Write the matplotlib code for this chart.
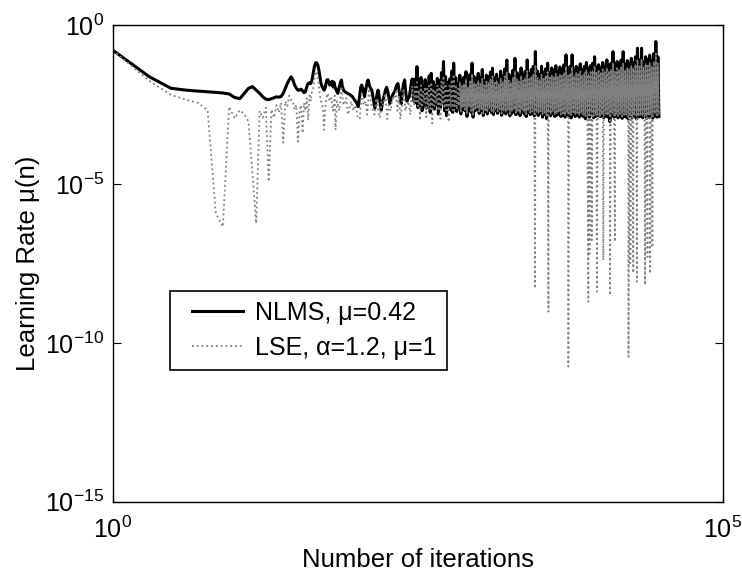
import numpy as np
import matplotlib
matplotlib.use("Agg")
import matplotlib.pyplot as plt
from matplotlib.ticker import NullLocator
from matplotlib.legend_handler import HandlerLine2D

plt.rcParams['font.family'] = ['Liberation Sans', 'DejaVu Sans']
plt.rcParams['mathtext.fontset'] = 'custom'
plt.rcParams['mathtext.rm'] = 'Liberation Sans'
plt.rcParams['mathtext.it'] = 'Liberation Sans:italic'
plt.rcParams['mathtext.bf'] = 'Liberation Sans:bold'

# ---------------- data (log10 of learning rate) ----------
# iterations 1..60
iters_early = list(range(1, 61))
nlms_early_log = [-0.79, -1.63, -1.99, -2.05, -2.08, -2.10, -2.12, -2.14, -2.17, -2.28,
                  -2.32, -2.15, -1.99, -1.94, -2.05, -2.15, -2.26, -2.33, -2.35, -2.32,
                  -2.29, -2.26, -2.27, -2.25, -2.15, -1.99, -1.84, -1.72, -1.63, -1.73,
                  -1.89, -1.99, -2.05, -2.05, -2.02, -2.07, -2.13, -2.10, -1.94, -1.84,
                  -1.82, -1.84, -1.73, -1.52, -1.31, -1.19, -1.19, -1.26, -1.42, -1.63,
                  -1.84, -1.94, -1.99, -2.05, -1.99, -1.84, -1.73, -1.72, -1.78, -1.89]
lse_early_log = [-0.79, -1.76, -2.20, -2.35, -2.45, -2.68, -5.92, -6.35, -2.57, -2.94,
                 -2.68, -2.80, -3.05, -4.70, -6.24, -2.70, -2.92, -2.60, -4.93, -2.66,
                 -2.92, -2.52, -2.75, -2.45, -3.70, -2.40, -2.55, -2.22, -2.35, -2.40,
                 -2.66, -2.52, -3.67, -2.70, -2.52, -3.40, -2.45, -2.70, -2.30, -3.00,
                 -2.22, -2.40, -2.10, -2.00, -1.70, -1.52, -1.46, -1.70, -1.92, -2.22,
                 -2.40, -2.52, -2.60, -3.30, -2.70, -2.40, -2.22, -2.15, -2.30, -2.40]

# iterations 60..300 (wiggly part)
nlms_mid_x = [62, 63, 64, 65, 67, 69, 70, 72, 74, 75, 76, 78, 80, 84, 88, 92, 96, 100,
              103, 106, 108, 110, 113, 116, 119, 122, 124, 127, 130, 133, 137, 141, 145,
              148, 150, 154, 159, 163, 168, 172, 176, 180, 184, 187, 191, 196, 200, 205,
              210, 214, 218, 222, 227, 232, 237, 242, 247, 252, 258, 264, 270, 276, 281,
              285, 290, 295]
nlms_mid_log = [-1.80, -1.77, -1.95, -1.80, -2.00, -2.10, -2.15, -1.95, -1.78, -1.73,
                -1.90, -2.05, -2.10, -2.15, -2.19, -2.25, -2.36, -2.45, -2.57, -2.20,
                -1.95, -1.89, -2.05, -2.26, -2.00, -1.80, -1.73, -1.90, -2.00, -2.05,
                -2.35, -2.62, -2.30, -2.10, -2.05, -2.35, -2.68, -2.40, -2.22, -2.05,
                -1.96, -2.10, -2.30, -2.47, -2.35, -2.22, -2.15, -2.10, -1.95, -1.88,
                -1.84, -2.05, -2.30, -2.47, -2.10, -1.85, -1.73, -2.10, -2.40, -2.30,
                -2.26, -2.00, -1.80, -1.70, -2.10, -2.40]
lse_mid_x = [62, 64, 66, 67, 69, 72, 75, 78, 82, 85, 90, 94, 98, 102, 106, 110, 114,
             118, 122, 126, 130, 136, 140, 145, 150, 155, 160, 166, 172, 178, 183, 190,
             196, 202, 210, 216, 222, 228, 235, 242, 250, 258, 265, 275, 285, 295]
lse_mid_log = [-2.30, -2.70, -2.22, -3.30, -2.40, -2.70, -2.00, -2.52, -2.30, -2.82,
               -2.40, -2.70, -2.52, -2.92, -2.96, -2.10, -2.52, -2.40, -2.82, -2.00,
               -2.40, -2.70, -2.82, -2.30, -2.70, -2.92, -2.40, -2.52, -2.15, -2.96,
               -2.52, -2.70, -2.30, -2.35, -2.10, -2.70, -2.22, -2.96, -2.52, -2.00,
               -2.70, -2.52, -2.40, -2.82, -1.92, -2.52]

# iterations 300..30000 (dense band): successive peaks (hi) and troughs (lo)
band_start, band_end = 300, 30000
nlms_hi_log = [-1.70, -1.31, -1.80, -1.65, -1.95, -1.72, -1.85, -1.60, -1.52, -1.78,
               -1.90, -1.68, -1.75, -1.50, -1.15, -1.62, -1.80, -1.70, -1.45, -1.20,
               -1.66, -1.85, -1.58, -1.72, -1.64, -1.47, -1.80, -1.55, -1.20, -1.62,
               -1.70, -1.52, -1.66, -1.40, -1.75, -1.58, -1.62, -1.48, -1.36, -1.66,
               -1.55, -1.70, -1.45, -1.60, -1.38, -1.10, -1.55, -1.62, -1.42, -1.05,
               -1.50, -1.60, -1.35, -1.58, -1.46, -1.10, -1.52, -1.40, -1.30, -0.84,
               -1.45, -1.55, -1.30, -1.48, -1.38, -1.20, -1.50, -1.35, -1.42, -1.28,
               -1.46, -1.32, -1.40, -1.25, -0.94, -1.38, -1.30, -0.94, -1.42, -1.30,
               -1.36, -1.22, -1.40, -1.30, -1.18, -1.35, -1.28, -1.20, -1.00, -1.32,
               -1.25, -1.35, -1.18, -1.30, -1.10, -1.26, -1.20, -0.84, -1.28, -1.15,
               -1.22, -1.10, -0.84, -1.25, -1.12, -1.20, -1.05, -1.18, -1.00, -0.73,
               -1.10, -0.73, -1.15, -1.00, -1.08, -0.95, -1.12, -0.90, -0.52, -1.00]
nlms_lo_log = [-2.45, -2.60, -2.35, -2.70, -2.50, -2.62, -2.40, -2.75, -2.55, -2.65,
               -2.50, -2.80, -2.60, -2.45, -2.70, -2.85, -2.55, -2.68, -2.75, -2.60,
               -2.72, -2.58, -2.80, -2.65, -2.70, -2.88, -2.62, -2.75, -2.90, -2.70,
               -2.65, -2.78, -2.70, -2.85, -2.72, -2.80, -2.68, -2.76, -2.82, -2.70,
               -2.78, -2.70, -2.84, -2.75, -2.80, -2.72, -2.86, -2.78, -2.70, -2.82,
               -2.76, -2.85, -2.72, -2.80, -2.88, -2.75, -2.82, -2.78, -2.86, -2.80,
               -2.85, -2.78, -2.90, -2.82, -2.95, -2.80, -2.86, -2.78, -2.88, -2.84,
               -2.80, -2.88, -2.84, -2.90, -2.82, -2.86, -2.92, -2.80, -2.88, -2.85,
               -2.90, -2.84, -2.88, -2.95, -2.86, -2.90, -2.82, -2.92, -2.88, -2.85,
               -2.88, -2.88, -2.92, -2.86, -2.90, -3.04, -2.84, -2.90, -2.88, -2.92,
               -2.86, -2.94, -2.88, -2.90, -2.96, -2.85, -2.92, -2.88, -2.95, -2.90,
               -2.88, -2.92, -2.86, -2.94, -2.90, -2.88, -2.93, -2.86, -2.90, -2.88]
lse_hi_log = [-1.95, -1.80, -2.05, -1.90, -2.10, -1.95, -2.00, -1.85, -1.80, -2.00,
              -2.05, -1.90, -1.95, -1.78, -1.60, -1.85, -2.00, -1.90, -1.72, -1.55,
              -1.88, -2.00, -1.80, -1.92, -1.85, -1.70, -1.95, -1.78, -1.55, -1.82,
              -1.88, -1.75, -1.85, -1.68, -1.90, -1.78, -1.80, -1.70, -1.62, -1.82,
              -1.75, -1.85, -1.68, -1.78, -1.62, -1.48, -1.75, -1.80, -1.65, -1.45,
              -1.70, -1.78, -1.60, -1.75, -1.66, -1.45, -1.70, -1.62, -1.55, -1.30,
              -1.65, -1.72, -1.55, -1.68, -1.60, -1.48, -1.66, -1.58, -1.62, -1.52,
              -1.62, -1.55, -1.60, -1.50, -1.30, -1.58, -1.52, -1.32, -1.60, -1.50,
              -1.55, -1.45, -1.58, -1.50, -1.42, -1.55, -1.48, -1.44, -1.30, -1.50,
              -1.45, -1.52, -1.40, -1.48, -1.35, -1.45, -1.40, -1.20, -1.46, -1.36,
              -1.40, -1.32, -1.20, -1.42, -1.34, -1.38, -1.28, -1.36, -1.25, -1.10,
              -1.30, -1.08, -1.32, -1.22, -1.28, -1.18, -1.30, -1.15, -0.90, -1.20]
lse_lo_log = [-2.40, -2.55, -3.00, -2.60, -2.45, -2.90, -2.50, -2.65, -3.10, -2.55,
              -2.48, -2.70, -2.95, -2.50, -2.62, -2.75, -3.05, -2.60, -2.68, -2.55,
              -2.65, -2.55, -2.72, -2.60, -2.66, -2.80, -2.58, -2.70, -2.82, -2.64,
              -2.60, -2.72, -2.66, -2.78, -2.68, -2.74, -2.62, -2.70, -2.76, -2.66,
              -2.72, -2.66, -2.78, -2.70, -2.74, -2.68, -2.80, -2.72, -2.66, -2.76,
              -2.70, -2.78, -2.68, -2.74, -2.80, -2.70, -2.76, -2.72, -2.80, -2.74,
              -2.78, -2.72, -2.82, -2.76, -2.85, -2.74, -2.80, -2.72, -2.82, -2.78,
              -2.74, -2.82, -2.78, -2.84, -2.76, -2.80, -2.85, -2.74, -2.82, -2.78,
              -2.84, -2.78, -2.82, -2.88, -2.80, -2.84, -2.76, -2.86, -2.82, -2.78,
              -2.90, -2.82, -2.86, -2.80, -2.84, -2.88, -2.78, -2.84, -2.82, -2.86,
              -2.80, -2.88, -2.82, -2.84, -2.90, -2.80, -2.86, -2.82, -2.88, -2.84,
              -2.82, -2.86, -2.80, -2.88, -2.84, -2.82, -2.87, -2.80, -2.84, -2.82]

# deep single-sample drops of the LSE learning rate
lse_dip_x = [2900, 3730, 5430, 7920, 8100, 8450, 9300, 10500, 11900, 13100,
             16900, 17500, 18500, 19800, 23100, 24200, 25400, 26500]
lse_dip_log = [-8.29, -9.02, -10.75, -8.71, -7.20, -6.77, -8.39, -7.40, -8.50, -6.82,
               -10.44, -7.50, -7.80, -8.08, -8.18, -7.30, -7.82, -7.00]

labels = ["NLMS, \u03bc=0.42", "LSE, \u03b1=1.2, \u03bc=1"]

# ---------------- assemble series ----------------
band_x = np.geomspace(band_start, band_end, 2 * len(nlms_hi_log))
nlms_band = np.empty(band_x.size)
nlms_band[0::2] = nlms_hi_log
nlms_band[1::2] = nlms_lo_log
lse_band = np.empty(band_x.size)
lse_band[0::2] = lse_hi_log
lse_band[1::2] = lse_lo_log

nlms_x = np.concatenate([iters_early, nlms_mid_x, band_x])
nlms_y = 10.0 ** np.concatenate([nlms_early_log, nlms_mid_log, nlms_band])

lse_bx = np.concatenate([band_x, lse_dip_x])
lse_by = np.concatenate([lse_band, lse_dip_log])
order = np.argsort(lse_bx)
lse_x = np.concatenate([iters_early, lse_mid_x, lse_bx[order]])
lse_y = 10.0 ** np.concatenate([lse_early_log, lse_mid_log, lse_by[order]])

# ---------------- plot ----------------
fig = plt.figure(figsize=(7.42, 5.73), dpi=100)
ax = fig.add_axes([112.7 / 742, 1 - 501.7 / 573, 610 / 742, 476.7 / 573])

ax.plot(nlms_x, nlms_y, color='black', lw=2.2, solid_joinstyle='round', label=labels[0])
ax.plot(lse_x, lse_y, color='0.5', lw=1.3, ls=':', label=labels[1])
# where the LSE samples are packed densely, the dotted trace merges into solid grey
dense = band_x >= 700
ax.plot(band_x[dense], 10.0 ** lse_band[dense], color='0.5', lw=0.8, ls='-')

ax.set_xscale('log')
ax.set_yscale('log')
ax.set_xlim(1, 1e5)
ax.set_ylim(1e-15, 1)
ax.set_xticks([1, 1e5])
ax.set_yticks([1e-15, 1e-10, 1e-5, 1])
ax.xaxis.set_minor_locator(NullLocator())
ax.yaxis.set_minor_locator(NullLocator())
ax.tick_params(direction='in', top=True, right=True, length=6, width=0.8,
               labelsize=18, pad=6)
ax.tick_params(axis='x', pad=11)
for s in ax.spines.values():
    s.set_linewidth(1.0)

ax.set_xlabel("Number of iterations", fontsize=18.5, labelpad=3)
ax.set_ylabel("Learning Rate \u03bc(n)", fontsize=18.5, labelpad=4)

leg = ax.legend(loc='lower left', bbox_to_anchor=(0.094, 0.276), borderaxespad=0,
                fontsize=18, frameon=True, fancybox=False, edgecolor='black',
                framealpha=1, handlelength=2.52, handletextpad=0.48,
                labelspacing=0.45, borderpad=0.4,
                handler_map={matplotlib.lines.Line2D: HandlerLine2D(xpad=0.48)})
leg.get_frame().set_linewidth(1.2)

fig.savefig("out.png", dpi=100)
